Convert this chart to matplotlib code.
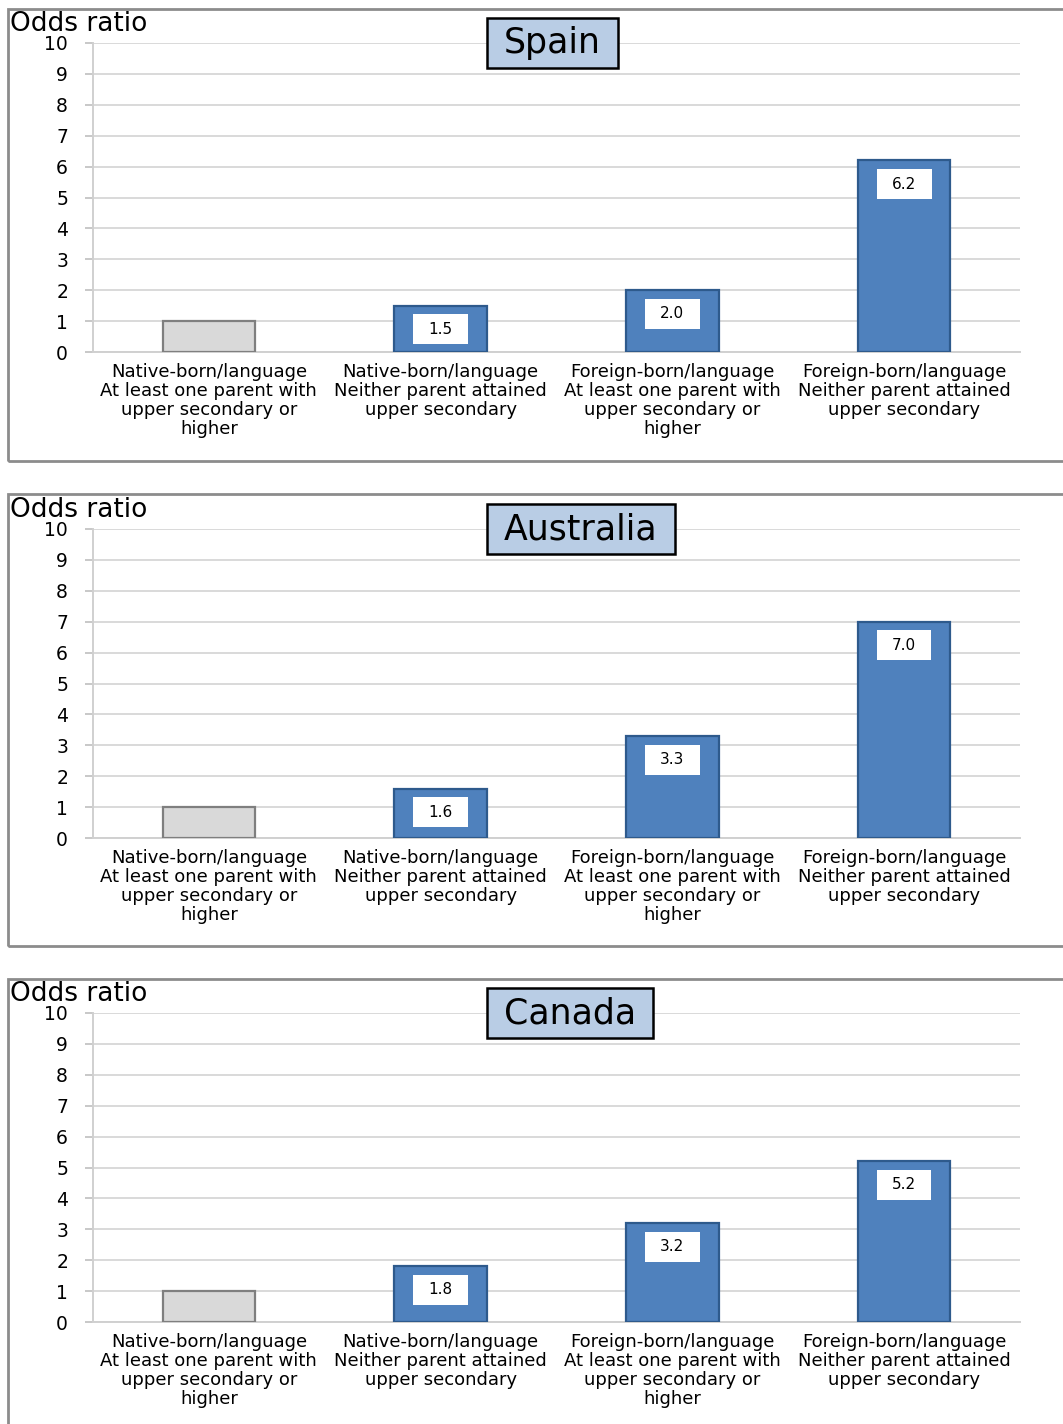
import matplotlib.pyplot as plt
from matplotlib.patches import Rectangle
from matplotlib.path import Path

plt.rcParams['font.family'] = ['DejaVu Sans']

countries = ['Spain', 'Australia', 'Canada']
categories = ['Native-born/language\nAt least one parent with\nupper secondary or\nhigher',
              'Native-born/language\nNeither parent attained\nupper secondary',
              'Foreign-born/language\nAt least one parent with\nupper secondary or\nhigher',
              'Foreign-born/language\nNeither parent attained\nupper secondary']
spain_or = [1.0, 1.5, 2.0, 6.2]
australia_or = [1.0, 1.6, 3.3, 7.0]
canada_or = [1.0, 1.8, 3.2, 5.2]
odds = [spain_or, australia_or, canada_or]

W, H = 1063, 1424
fig = plt.figure(figsize=(W / 100, H / 100), dpi=100)

# pixel layout of the three panels: (y of value 0, frame top, frame bottom)
layout = [(352, 9, 461), (838, 494, 946), (1322, 979, 1440)]
ax_left, ax_right, ax_h = 93, 1020, 309

blue, blue_edge = '#4F81BD', '#2E5A8C'
grey, grey_edge = '#D9D9D9', '#7F7F7F'


def wide_box(px, py):
    # box with separate horizontal / vertical padding (fractions of font size)
    def style(x0, y0, width, height, mutation_size):
        dx, dy = px * mutation_size, py * mutation_size
        x0, y0 = x0 - dx, y0 - dy
        x1, y1 = x0 + width + 2 * dx, y0 + height + 2 * dy
        return Path([(x0, y0), (x1, y0), (x1, y1), (x0, y1), (x0, y0)], closed=True)
    return style


for country, vals, (y0, ftop, fbot) in zip(countries, odds, layout):
    fig.add_artist(Rectangle((8 / W, 1 - fbot / H), 1.2, (fbot - ftop) / H,
                             transform=fig.transFigure, fill=False,
                             ec='#8C8C8C', lw=2))
    ax = fig.add_axes([ax_left / W, 1 - y0 / H, (ax_right - ax_left) / W, ax_h / H])
    x = range(len(vals))
    colors = [grey] + [blue] * (len(vals) - 1)
    edges = [grey_edge] + [blue_edge] * (len(vals) - 1)
    ax.bar(x, vals, width=0.4, color=colors, edgecolor=edges, linewidth=1.6, zorder=3)
    for i, v in enumerate(vals):
        if i == 0:
            continue
        ax.annotate(f'{v:.1f}', (i, v), xytext=(0, -17), textcoords='offset points',
                    ha='center', va='center', fontsize=11, zorder=4,
                    bbox=dict(boxstyle=wide_box(1.0, 0.5), fc='white', ec='none'))
    ax.set_xlim(-0.5, 3.5)
    ax.set_ylim(0, 10)
    ax.set_yticks(range(11))
    ax.set_xticks(list(x))
    ax.set_xticklabels(categories, fontsize=13, linespacing=1.08)
    ax.tick_params(axis='x', length=0, pad=8)
    ax.tick_params(axis='y', length=6, width=1.2, color='#BFBFBF', pad=12, labelsize=13.5)
    ax.grid(axis='y', color='#D9D9D9', lw=1.4, zorder=0)
    for s in ['top', 'right']:
        ax.spines[s].set_visible(False)
    ax.spines['left'].set_color('#D0D0D0')
    ax.spines['bottom'].set_color('#D0D0D0')
    ax.spines['left'].set_linewidth(1.4)
    ax.spines['bottom'].set_linewidth(1.4)
    ax.set_facecolor('none')

    fig.text(10 / W, 1 - (y0 - ax_h - 12) / H, 'Odds ratio', fontsize=19, va='baseline')
    ax.text((504 - ax_left) / (ax_right - ax_left), 10, country,
            transform=ax.get_yaxis_transform(), fontsize=25,
            ha='left', va='center', zorder=5,
            bbox=dict(boxstyle=wide_box(0.5, 0.22), fc='#B9CDE5', ec='black', lw=1.8))

fig.savefig('out.png', dpi=100)
